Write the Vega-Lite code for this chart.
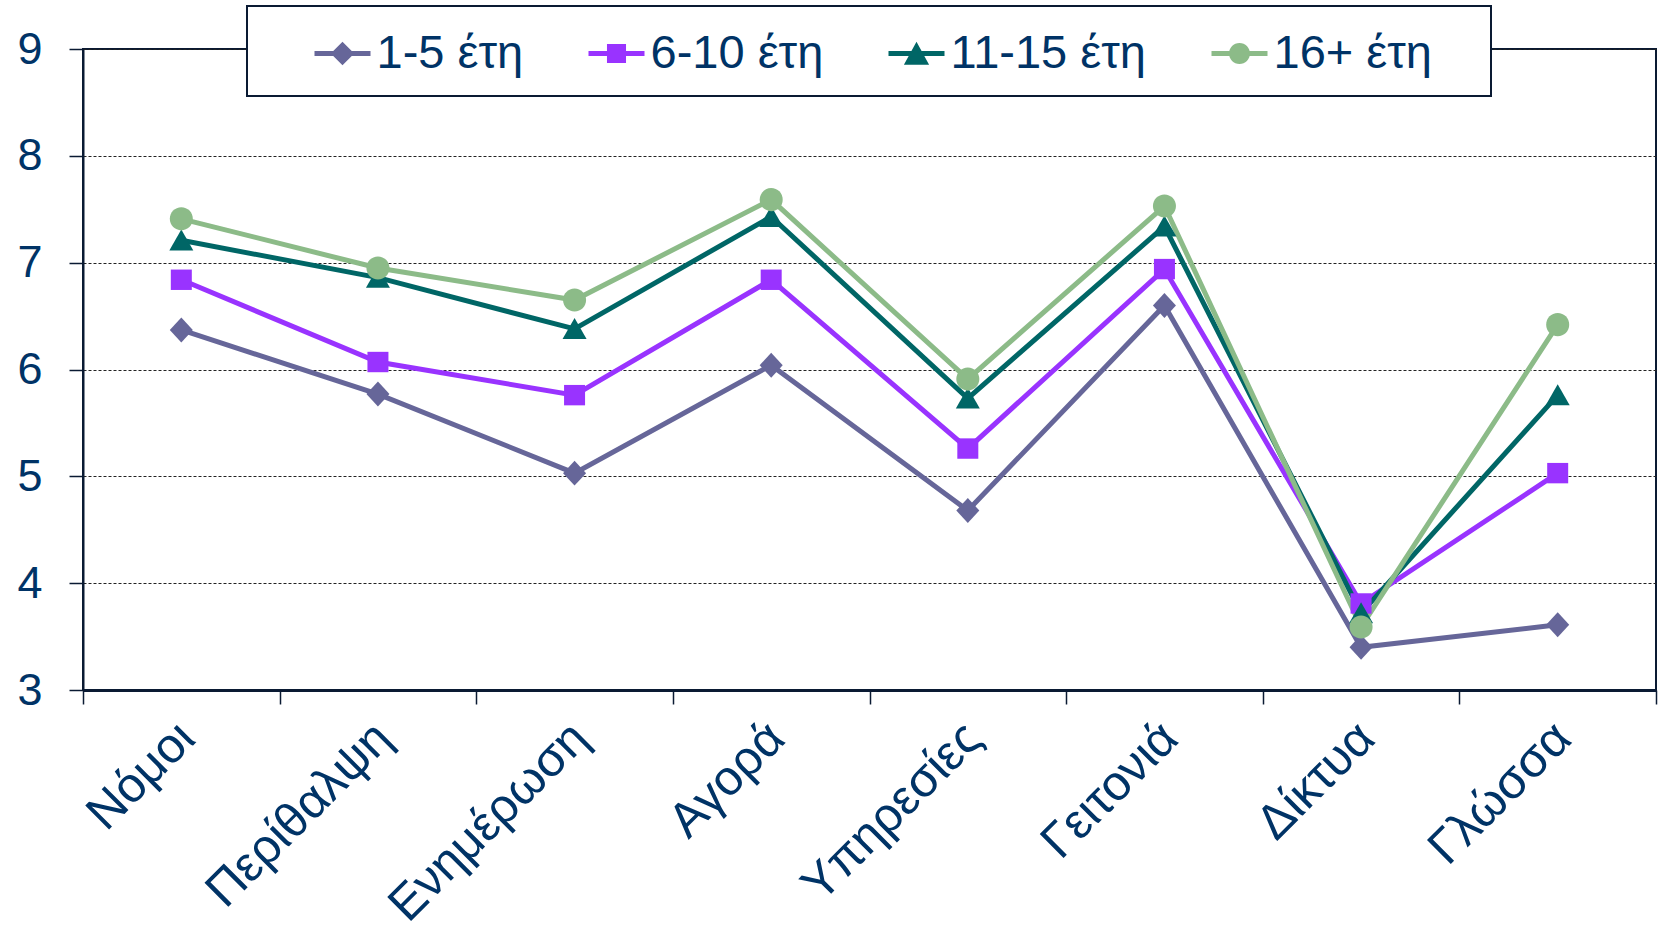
{
  "$schema": "https://vega.github.io/schema/vega-lite/v6.json",
  "autosize": "none",
  "width": 1573,
  "height": 641,
  "padding": {"left": 83, "top": 49, "right": 9, "bottom": 237},
  "background": "white",
  "config": {
    "font": "Liberation Sans",
    "view": {"stroke": "#0a1a33", "strokeWidth": 2},
    "legend": {
      "orient": "none",
      "legendX": 164,
      "legendY": -43,
      "direction": "horizontal",
      "padding": 19.5,
      "strokeColor": "#0a1a33",
      "strokeWidth": 2,
      "fillColor": "white",
      "labelFontSize": 47,
      "labelColor": "#003366",
      "labelFont": "Liberation Sans",
      "labelLimit": 400,
      "labelOffset": 6,
      "columnPadding": 65,
      "symbolSize": 3136,
      "symbolStrokeWidth": 0,
      "titleOrient": "left",
      "titleFontSize": 47,
      "titlePadding": 48,
      "titleColor": "white"
    }
  },
  "data": {
    "values": [
      {"cat": "Νόμοι", "series": "1-5 έτη", "v": 6.37},
      {"cat": "Περίθαλψη", "series": "1-5 έτη", "v": 5.77},
      {"cat": "Ενημέρωση", "series": "1-5 έτη", "v": 5.03},
      {"cat": "Αγορά", "series": "1-5 έτη", "v": 6.04},
      {"cat": "Υπηρεσίες", "series": "1-5 έτη", "v": 4.68},
      {"cat": "Γειτονιά", "series": "1-5 έτη", "v": 6.6},
      {"cat": "Δίκτυα", "series": "1-5 έτη", "v": 3.4},
      {"cat": "Γλώσσα", "series": "1-5 έτη", "v": 3.61},
      {"cat": "Νόμοι", "series": "6-10 έτη", "v": 6.84},
      {"cat": "Περίθαλψη", "series": "6-10 έτη", "v": 6.07},
      {"cat": "Ενημέρωση", "series": "6-10 έτη", "v": 5.76},
      {"cat": "Αγορά", "series": "6-10 έτη", "v": 6.84},
      {"cat": "Υπηρεσίες", "series": "6-10 έτη", "v": 5.26},
      {"cat": "Γειτονιά", "series": "6-10 έτη", "v": 6.94},
      {"cat": "Δίκτυα", "series": "6-10 έτη", "v": 3.81},
      {"cat": "Γλώσσα", "series": "6-10 έτη", "v": 5.03},
      {"cat": "Νόμοι", "series": "11-15 έτη", "v": 7.21},
      {"cat": "Περίθαλψη", "series": "11-15 έτη", "v": 6.86},
      {"cat": "Ενημέρωση", "series": "11-15 έτη", "v": 6.38},
      {"cat": "Αγορά", "series": "11-15 έτη", "v": 7.43},
      {"cat": "Υπηρεσίες", "series": "11-15 έτη", "v": 5.73},
      {"cat": "Γειτονιά", "series": "11-15 έτη", "v": 7.34},
      {"cat": "Δίκτυα", "series": "11-15 έτη", "v": 3.72},
      {"cat": "Γλώσσα", "series": "11-15 έτη", "v": 5.76},
      {"cat": "Νόμοι", "series": "16+ έτη", "v": 7.41},
      {"cat": "Περίθαλψη", "series": "16+ έτη", "v": 6.95},
      {"cat": "Ενημέρωση", "series": "16+ έτη", "v": 6.65},
      {"cat": "Αγορά", "series": "16+ έτη", "v": 7.59},
      {"cat": "Υπηρεσίες", "series": "16+ έτη", "v": 5.91},
      {"cat": "Γειτονιά", "series": "16+ έτη", "v": 7.53},
      {"cat": "Δίκτυα", "series": "16+ έτη", "v": 3.59},
      {"cat": "Γλώσσα", "series": "16+ έτη", "v": 6.42}
    ]
  },
  "encoding": {
    "x": {
      "field": "cat",
      "type": "nominal",
      "sort": null,
      "scale": {"domain": ["Νόμοι", "Περίθαλψη", "Ενημέρωση", "Αγορά", "Υπηρεσίες", "Γειτονιά", "Δίκτυα", "Γλώσσα"], "paddingInner": 0, "paddingOuter": 0},
      "axis": {
        "title": null,
        "labelAngle": -45,
        "labelAlign": "right",
        "labelBaseline": "middle",
        "labelFontSize": 49,
        "labelColor": "#003366",
        "labelPadding": 26,
        "labelOffset": 5,
        "labelLimit": 500,
        "labelOverlap": false,
        "tickBand": "extent",
        "tickSize": 14,
        "tickColor": "#0a1a33",
        "tickWidth": 1.5,
        "domainColor": "#0a1a33",
        "domainWidth": 3,
        "grid": false
      }
    },
    "y": {
      "field": "v",
      "type": "quantitative",
      "scale": {"domain": [3, 9], "nice": false, "zero": false},
      "axis": {
        "title": null,
        "values": [3, 4, 5, 6, 7, 8, 9],
        "labelFontSize": 45,
        "labelColor": "#003366",
        "labelPadding": 27,
        "tickSize": 14,
        "tickColor": "#0a1a33",
        "tickWidth": 1.5,
        "domainColor": "#0a1a33",
        "domainWidth": 2,
        "grid": true,
        "gridColor": "#222222",
        "gridDash": [3, 2],
        "gridWidth": 1
      }
    }
  },
  "layer": [
    {
      "mark": {"type": "line", "strokeWidth": 5, "strokeCap": "round", "strokeJoin": "miter"},
      "encoding": {
        "color": {
          "field": "series",
          "type": "nominal",
          "scale": {"domain": ["1-5 έτη", "6-10 έτη", "11-15 έτη", "16+ έτη"], "range": ["#666699", "#9933FF", "#006666", "#8CBB88"]},
          "legend": null
        },
        "detail": {"field": "series"}
      }
    },
    {
      "mark": {"type": "point", "filled": true, "opacity": 1, "size": 576},
      "encoding": {
        "color": {
          "field": "series",
          "type": "nominal",
          "scale": {"domain": ["1-5 έτη", "6-10 έτη", "11-15 έτη", "16+ έτη"], "range": ["#666699", "#9933FF", "#006666", "#8CBB88"]},
          "legend": null
        },
        "shape": {
          "field": "series",
          "type": "nominal",
          "scale": {
            "domain": ["1-5 έτη", "6-10 έτη", "11-15 έτη", "16+ έτη"],
            "range": [
              "M0,-1.04L0.96,0L0,1.04L-0.96,0Z",
              "M-0.875,-0.85H0.875V0.85H-0.875Z",
              "M0,-0.9L1,0.85H-1Z",
              "M-0.96,0A0.96,0.96 0 1,1 0.96,0A0.96,0.96 0 1,1 -0.96,0Z"
            ]
          },
          "legend": null
        }
      }
    },
    {
      "transform": [{"filter": "datum.v > 100"}],
      "mark": {"type": "point", "filled": true, "opacity": 1},
      "encoding": {
        "fill": {
          "field": "series",
          "type": "nominal",
          "scale": {"domain": ["1-5 έτη", "6-10 έτη", "11-15 έτη", "16+ έτη"], "range": ["#666699", "#9933FF", "#006666", "#8CBB88"]},
          "legend": {"title": "\u00a0", "labelExpr": "datum.label == '16+ έτη' ? datum.label + '\u00a0\u00a0\u00a0\u200b' : datum.label"}
        },
        "shape": {
          "field": "series",
          "type": "nominal",
          "scale": {
            "domain": ["1-5 έτη", "6-10 έτη", "11-15 έτη", "16+ έτη"],
            "range": [
              "M-1,-0.09H1V0.09H-1ZM0,-0.42L0.42,0L0,0.42L-0.42,0Z",
              "M-1,-0.09H1V0.09H-1ZM-0.34,-0.34H0.34V0.34H-0.34Z",
              "M-1,-0.09H1V0.09H-1ZM0,-0.42L0.45,0.4H-0.45Z",
              "M-1,-0.09H1V0.09H-1ZM-0.375,0A0.375,0.375 0 1,1 0.375,0A0.375,0.375 0 1,1 -0.375,0Z"
            ]
          },
          "legend": {"title": "\u00a0", "labelExpr": "datum.label == '16+ έτη' ? datum.label + '\u00a0\u00a0\u00a0\u200b' : datum.label"}
        }
      }
    }
  ],
  "resolve": {
    "scale": {"shape": "independent", "fill": "independent"},
    "legend": {"shape": "independent", "fill": "independent"}
  }
}
